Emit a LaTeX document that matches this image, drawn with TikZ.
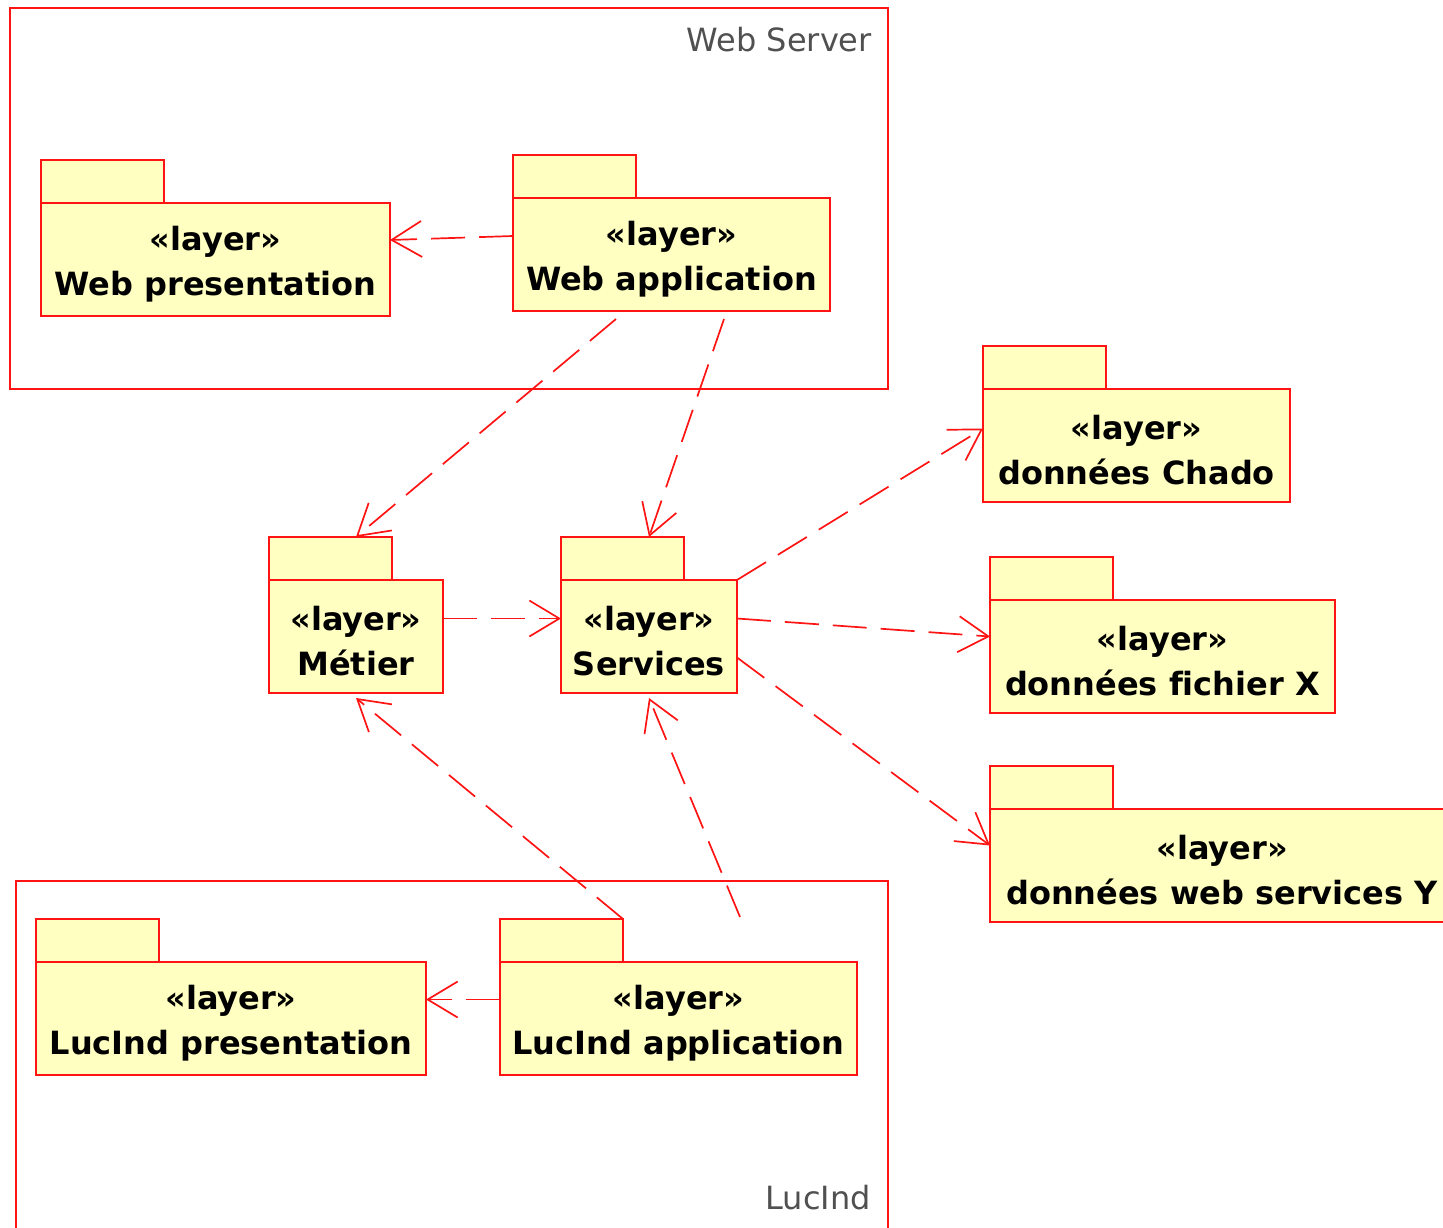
\documentclass[tikz,border=0pt]{standalone}
\usepackage{fontspec}
\setmainfont{DejaVu Sans}[Ligatures=NoCommon]
\usetikzlibrary{arrows.meta}
\definecolor{umlred}{RGB}{255,20,20}
\definecolor{umlfill}{RGB}{255,255,194}
\definecolor{labelgray}{RGB}{80,80,80}
\newcommand{\pkgtext}[1]{\rule{0pt}{33pt}«layer»\\#1}
\tikzset{
  frame/.style={draw=umlred, line width=2pt, rectangle, inner sep=0pt, outer sep=0pt, anchor=north west},
  pkgbody/.style={draw=umlred, fill=umlfill, line width=2pt, rectangle, inner sep=0pt, outer sep=0pt, anchor=north west,
    align=center, font=\fontsize{32}{45}\selectfont\bfseries, minimum height=113pt},
  pkgtab/.style={draw=umlred, fill=umlfill, line width=2pt, rectangle, inner sep=0pt, outer sep=0pt, anchor=south west,
    minimum width=123pt, minimum height=43pt},
  framelabel/.style={text=labelgray, font=\fontsize{32}{38}\selectfont, inner sep=0pt},
  dep/.style={draw=umlred, line width=1.7pt, dash pattern=on 34pt off 14pt,
    -{Straight Barb[length=30pt, width=36pt, line width=1.7pt]}},
}
\begin{document}
\begin{tikzpicture}[x=1pt, y=-1pt]
\useasboundingbox (0,0) rectangle (1443,1227);
% frames
\node[frame, minimum width=878pt, minimum height=381pt] (ws) at (10,8) {};
\node[framelabel, anchor=east] (wsL) at ([xshift=-16pt, yshift=-32pt]ws.north east) {Web Server};
\node[frame, minimum width=872pt, minimum height=370pt] (lf) at (16,881) {};
\node[framelabel, anchor=east] (lfL) at ([xshift=-17pt]lf.east |- 0,1198) {LucInd};
% packages
\node[pkgbody, minimum width=349pt] (wp) at (41,203) {\pkgtext{Web presentation}};
\node[pkgtab] (wpT) at (wp.north west) {};
\node[pkgbody, minimum width=317pt] (wa) at (513,198) {\pkgtext{Web application}};
\node[pkgtab] (waT) at (wa.north west) {};
\node[pkgbody, minimum width=307pt] (dc) at (983,389) {\pkgtext{données Chado}};
\node[pkgtab] (dcT) at (dc.north west) {};
\node[pkgbody, minimum width=174pt] (m) at (269,580) {\pkgtext{Métier}};
\node[pkgtab] (mT) at (m.north west) {};
\node[pkgbody, minimum width=176pt] (s) at (561,580) {\pkgtext{Services}};
\node[pkgtab] (sT) at (s.north west) {};
\node[pkgbody, minimum width=345pt] (fx) at (990,600) {\pkgtext{données fichier X}};
\node[pkgtab] (fxT) at (fx.north west) {};
\node[pkgbody, minimum width=464pt] (wy) at (990,809) {\pkgtext{données web services Y}};
\node[pkgtab] (wyT) at (wy.north west) {};
\node[pkgbody, minimum width=390pt] (lp) at (36,962) {\pkgtext{LucInd presentation}};
\node[pkgtab] (lpT) at (lp.north west) {};
\node[pkgbody, minimum width=357pt] (la) at (500,962) {\pkgtext{LucInd application}};
\node[pkgtab] (laT) at (la.north west) {};
% dependencies
\draw[dep] ([yshift=-38pt]wa.north west) -- ([yshift=-37pt]wp.north east);
\draw[dep] ([xshift=103pt, yshift=-8pt]wa.south west) -- (m.north |- mT.north);
\draw[dep] ([xshift=211pt, yshift=-8pt]wa.south west) -- (s.north |- sT.north);
\draw[dep] ([yshift=18pt]m.east) -- ([yshift=18pt]s.west);
\draw[dep] (s.north east) -- ([yshift=17pt]dc.west);
\draw[dep] ([yshift=18pt]s.east) -- ([yshift=20pt]fx.west);
\draw[dep] ([yshift=-21pt]s.east) -- ([yshift=20pt]wy.west);
\draw[dep] (laT.north east) -- ([yshift=-5pt]m.south);
\draw[dep] ([xshift=240pt, yshift=45pt]la.north west) -- ([yshift=-5pt]s.south);
\draw[dep] ([yshift=19pt]la.west) -- ([yshift=19pt]lp.east);
\end{tikzpicture}
\end{document}
